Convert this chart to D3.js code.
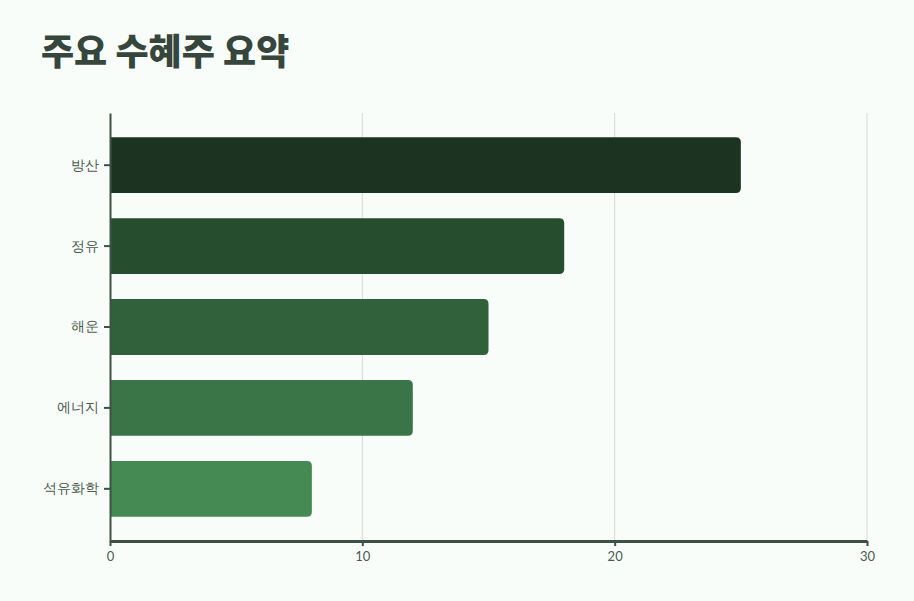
<!DOCTYPE html>
<html>
<head>
<meta charset="utf-8">
<script src="https://cdn.jsdelivr.net/npm/d3@7"></script>
<style>
  html, body { margin: 0; padding: 0; background: #f8fdf9; }
  svg { display: block; font-family: "Noto Sans CJK KR", "Noto Sans", sans-serif; }
</style>
</head>
<body>
<svg id="chart" width="914" height="601"></svg>
<script>
const sectors = ["방산", "정유", "해운", "에너지", "석유화학"];
const scores = [25, 18, 15, 12, 8];
const barColors = ["#1b3320", "#264d2e", "#30613a", "#3a7548", "#448a52"];
const xTicks = [0, 10, 20, 30];

const dataset = sectors.map((s, i) => ({sector: s, value: scores[i], color: barColors[i]}));

const svg = d3.select("#chart");
const margin = {top: 113, right: 47, bottom: 60, left: 110};
const dim = {w: 914, h: 601};

// title
svg.append("text")
    .attr("x", 41)
    .attr("y", 65)
    .style("font-size", "36px")
    .style("font-weight", "900")
    .style("fill", "#36463c")
    .text("주요 수혜주 요약");

const x = d3.scaleLinear()
    .domain([0, 30])
    .range([margin.left, dim.w - margin.right]);
const y = d3.scaleBand()
    .domain(sectors)
    .range([margin.top, dim.h - margin.bottom])
    .paddingInner(0.31)
    .paddingOuter(0.3);

// grid lines
svg.append("g")
    .selectAll("line")
    .data(xTicks.filter(d => d > 0))
    .join("line")
    .attr("x1", d => x(d)).attr("x2", d => x(d))
    .attr("y1", margin.top).attr("y2", dim.h - margin.bottom)
    .attr("stroke", "#d6dbd7")
    .attr("stroke-width", 1);

// bars, rounded on the right only
const r = 5;
svg.append("g")
    .selectAll("path")
    .data(dataset)
    .join("path")
    .attr("fill", d => d.color)
    .attr("d", d => {
        const x0 = x(0), x1 = x(d.value), y0 = y(d.sector), h = y.bandwidth();
        return `M${x0},${y0}H${x1 - r}Q${x1},${y0} ${x1},${y0 + r}` +
               `V${y0 + h - r}Q${x1},${y0 + h} ${x1 - r},${y0 + h}H${x0}Z`;
    });

// x axis
const xAxis = svg.append("g")
    .attr("transform", `translate(0,${dim.h - margin.bottom})`)
    .call(d3.axisBottom(x).tickValues(xTicks).tickSize(5).tickSizeOuter(0).tickPadding(6));
xAxis.select(".domain").attr("stroke", "#3d5245").attr("stroke-width", 3);
xAxis.selectAll(".tick line").attr("stroke", "#3d5245").attr("stroke-width", 2);
xAxis.selectAll("text")
    .style("font-size", "13px")
    .style("fill", "#4a5a50")
    .style("font-family", "Lato, sans-serif");

// y axis
const yAxis = svg.append("g")
    .attr("transform", `translate(${margin.left},0)`)
    .call(d3.axisLeft(y).tickSize(6).tickSizeOuter(0).tickPadding(5));
yAxis.select(".domain").attr("stroke", "#3d5245").attr("stroke-width", 2);
yAxis.selectAll(".tick line").attr("stroke", "#3d5245").attr("stroke-width", 2);
yAxis.selectAll("text")
    .style("font-size", "14px")
    .style("fill", "#4a5a50");
</script>
</body>
</html>
